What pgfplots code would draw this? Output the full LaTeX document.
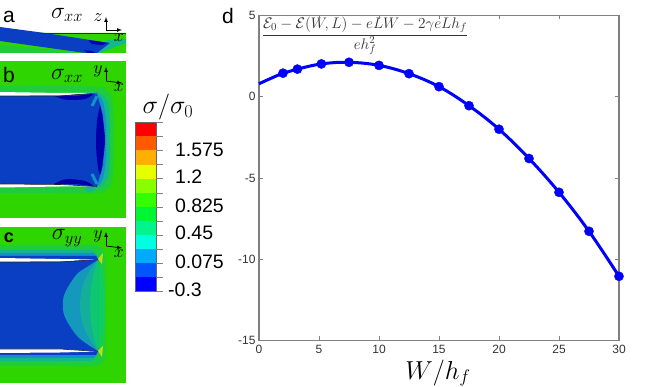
\RequirePackage{fix-cm}
\documentclass[border=0pt]{standalone}
\usepackage{pgfplots}
\pgfplotsset{compat=1.18}
\usepackage{fontspec}
\setmainfont{Liberation Sans}
\definecolor{bg}{HTML}{2FD500}
\definecolor{halo}{HTML}{1FCC3A}
\definecolor{teal1}{HTML}{12B98C}
\definecolor{lb}{HTML}{1590C8}
\definecolor{mb}{HTML}{0A3FC4}
\definecolor{db}{HTML}{0000AA}
\definecolor{axg}{HTML}{808080}
\begin{document}
\begin{tikzpicture}
\path[use as bounding box] (0,0) rectangle (654pt,387pt);
% ---------- overlay in pixel coordinates
\begin{axis}[at={(0,0)},anchor=south west,scale only axis,width=654pt,height=387pt,
  xmin=0,xmax=654,ymin=0,ymax=387,y dir=reverse,hide axis,clip=false]
% panel a
\addplot[fill=bg,draw=none] coordinates {(0,28)(40,33)(126,33)(126,53)(0,53)} --cycle;
\addplot[fill=halo,draw=none] coordinates {(0,45)(85,53)(0,53)} --cycle;
\addplot[fill=teal1,draw=none] coordinates {(90,53)(108,40)(126,39)(126,43)(112,48)(100,53)} --cycle;
\addplot[fill=mb,draw=none] coordinates {(0,27)(45,33)(90,40)(110,43)(97,53)(85,53)(0,41)} --cycle;
\addplot[fill=db,draw=none] coordinates {(88,40)(108,43)(102,45)(92,44)} --cycle;
\addplot[fill=db,draw=none] coordinates {(84,50)(92,51)(95,53)(88,53)} --cycle;
\addplot[draw=black!70!green,line width=0.7pt] coordinates {(40,33)(126,33)};
% panel b
\addplot[fill=bg,draw=none] coordinates {(0,61)(126,61)(126,218)(0,218)} --cycle;
\addplot[fill=halo,draw=none,smooth] coordinates {(0,86)(60,86)(98,87)(109,92)(113,105)(114,140)(113,175)(109,188)(98,193)(60,193)(0,193)} --cycle;
\addplot[fill=teal1,draw=none,smooth] coordinates {(97,92)(104,96)(109,108)(110,140)(109,172)(104,184)(97,188)(85,186)(85,93)} --cycle;
\addplot[fill=lb,draw=none,smooth] coordinates {(97,94)(103,102)(106,120)(106.5,140)(106,160)(103,178)(97,186)(85,180)(85,100)} --cycle;
\addplot[fill=mb,draw=none] coordinates {(0,94)(97,94)(103,115)(104,140)(103,165)(97,186)(0,186)} --cycle;
\addplot[fill=db,draw=none,smooth] coordinates {(100,105)(103,120)(105,140)(103,160)(100,175)(97,160)(96,140)(97,120)} --cycle;
\addplot[fill=db,draw=none,smooth] coordinates {(54,96)(75,96)(93,94)(85,99)(70,100)(62,99)} --cycle;
\addplot[fill=db,draw=none,smooth] coordinates {(54,184)(75,184)(93,186)(85,181)(70,179)(62,180)} --cycle;
\addplot[draw=lb,line width=3pt] coordinates {(97,96)(92,106)};
\addplot[draw=lb,line width=3pt] coordinates {(97,184)(92,174)};
\addplot[fill=white,draw=none] coordinates {(0,92)(60,93)(97,93)(60,95.5)(0,96)} --cycle;
\addplot[fill=white,draw=none] coordinates {(0,184)(60,184.5)(97,186.5)(60,186.5)(0,187.5)} --cycle;
\addplot[draw=black!85,line width=0.6pt] coordinates {(0,96)(60,96)(97,93)};
\addplot[draw=black!85,line width=0.6pt] coordinates {(0,184)(60,184.5)(97,186.5)};
% panel c
\addplot[fill=bg,draw=none] coordinates {(0,227)(126,227)(126,383)(0,383)} --cycle;
\addplot[fill=halo,draw=none,smooth] coordinates {(0,245)(60,245)(95,245)(104,252)(106,270)(106,305)(106,340)(104,360)(95,366)(60,366)(0,366)} --cycle;
\addplot[fill=teal1,draw=none] coordinates {(0,250)(92,250)(98,256)(98,354)(92,361)(0,361)} --cycle;
\addplot[fill=lb,draw=none] coordinates {(0,253)(94,253)(98,258)(98,352)(94,358)(0,358)} --cycle;
\addplot[fill=mb,draw=none] coordinates {(0,256)(96,256)(98,260)(98,351)(96,355)(0,355)} --cycle;
% lenses
\addplot[fill=teal1!70!green,draw=none,smooth] coordinates {(98,260)(103,280)(104,305)(103,330)(98,351)} --cycle;
\addplot[fill=lb!80!teal1,draw=none,smooth] coordinates {(98,260)(87,267)(77,274)(68,287)(63.5,297)(63,305)(63.5,313)(68,323)(77,336)(87,344)(98,351)} --cycle;
\addplot[fill=lb!25!teal1,draw=none,smooth] coordinates {(98,260)(90,270)(84,282)(81,294)(80,305)(81,316)(84,328)(90,340)(98,351)} --cycle;
\addplot[fill=teal1!80!green,draw=none,smooth] coordinates {(98,260)(94,272)(91,288)(90,305)(91,322)(94,338)(98,351)} --cycle;
\addplot[fill=white,draw=none] coordinates {(0,258)(60,259)(98,259.5)(60,261.5)(0,262)} --cycle;
\addplot[fill=white,draw=none] coordinates {(0,349)(60,349)(98,351.5)(60,352.5)(0,353)} --cycle;
\addplot[draw=black!85,line width=0.6pt] coordinates {(0,262)(60,262)(98,259.5)};
\addplot[draw=black!85,line width=0.6pt] coordinates {(0,349)(60,349)(98,351.5)};
\addplot[fill=yellow!75!green,draw=none] coordinates {(98,259)(103,253)(102,264)} --cycle;
\addplot[fill=yellow!75!green,draw=none] coordinates {(98,351)(103,346)(102,357)} --cycle;
% triads
\addplot[black,line width=0.7pt,-latex] coordinates {(106,30)(106,17)};
\addplot[black,line width=0.7pt,-latex] coordinates {(106,30)(122,30)};
\addplot[black,line width=0.7pt,-latex] coordinates {(106,81)(106,67)};
\addplot[black,line width=0.7pt,-latex] coordinates {(106,81)(122,83)};
\addplot[black,line width=0.7pt,-latex] coordinates {(106,246)(106,232)};
\addplot[black,line width=0.7pt,-latex] coordinates {(106,246)(122,248)};
% colorbar
\addplot[fill={rgb,255:red,255;green,0;blue,0},draw=none] coordinates {(135,122.3)(156,122.3)(156,136.4)(135,136.4)} --cycle;
\addplot[fill={rgb,255:red,255;green,90;blue,0},draw=none] coordinates {(135,136.4)(156,136.4)(156,150.5)(135,150.5)} --cycle;
\addplot[fill={rgb,255:red,255;green,175;blue,0},draw=none] coordinates {(135,150.5)(156,150.5)(156,164.6)(135,164.6)} --cycle;
\addplot[fill={rgb,255:red,230;green,255;blue,0},draw=none] coordinates {(135,164.6)(156,164.6)(156,178.7)(135,178.7)} --cycle;
\addplot[fill={rgb,255:red,136;green,255;blue,0},draw=none] coordinates {(135,178.7)(156,178.7)(156,192.8)(135,192.8)} --cycle;
\addplot[fill={rgb,255:red,51;green,255;blue,0},draw=none] coordinates {(135,192.8)(156,192.8)(156,206.9)(135,206.9)} --cycle;
\addplot[fill={rgb,255:red,0;green,245;blue,50},draw=none] coordinates {(135,206.9)(156,206.9)(156,221)(135,221)} --cycle;
\addplot[fill={rgb,255:red,0;green,245;blue,140},draw=none] coordinates {(135,221)(156,221)(156,235.1)(135,235.1)} --cycle;
\addplot[fill={rgb,255:red,0;green,255;blue,225},draw=none] coordinates {(135,235.1)(156,235.1)(156,249.2)(135,249.2)} --cycle;
\addplot[fill={rgb,255:red,0;green,170;blue,255},draw=none] coordinates {(135,249.2)(156,249.2)(156,263.3)(135,263.3)} --cycle;
\addplot[fill={rgb,255:red,0;green,85;blue,255},draw=none] coordinates {(135,263.3)(156,263.3)(156,277.2)(135,277.2)} --cycle;
\addplot[fill={rgb,255:red,0;green,0;blue,255},draw=none] coordinates {(135,277.2)(156,277.2)(156,291.3)(135,291.3)} --cycle;
\addplot[draw=black!60,line width=0.4pt] coordinates {(135,122.3)(135,291.3)(156,291.3)(156,122.3)(135,122.3)};
\addplot[draw=black!50,line width=0.5pt] coordinates {(156,122.3)(162.5,122.3)};
\addplot[draw=black!50,line width=0.5pt] coordinates {(156,136.4)(162.5,136.4)};
\addplot[draw=black!50,line width=0.5pt] coordinates {(156,150.5)(162.5,150.5)};
\addplot[draw=black!50,line width=0.5pt] coordinates {(156,164.6)(162.5,164.6)};
\addplot[draw=black!50,line width=0.5pt] coordinates {(156,178.7)(162.5,178.7)};
\addplot[draw=black!50,line width=0.5pt] coordinates {(156,192.8)(162.5,192.8)};
\addplot[draw=black!50,line width=0.5pt] coordinates {(156,206.9)(162.5,206.9)};
\addplot[draw=black!50,line width=0.5pt] coordinates {(156,221)(162.5,221)};
\addplot[draw=black!50,line width=0.5pt] coordinates {(156,235.1)(162.5,235.1)};
\addplot[draw=black!50,line width=0.5pt] coordinates {(156,249.2)(162.5,249.2)};
\addplot[draw=black!50,line width=0.5pt] coordinates {(156,263.3)(162.5,263.3)};
\addplot[draw=black!50,line width=0.5pt] coordinates {(156,277.2)(162.5,277.2)};
\addplot[draw=black!50,line width=0.5pt] coordinates {(156,291.3)(162.5,291.3)};
% text
\node[inner sep=0pt] at (axis cs:9,16.5) {\fontsize{21}{21}\selectfont a};
\node[inner sep=0pt] at (axis cs:9,75) {\fontsize{21}{21}\selectfont b};
\node[inner sep=0pt] at (axis cs:9,238) {\fontsize{18}{18}\selectfont\bfseries c};
\node[inner sep=0pt] at (axis cs:228,16) {\fontsize{21}{21}\selectfont d};
\node[inner sep=0pt] at (axis cs:67,15) {\fontsize{23.5}{23.5}\selectfont $\sigma_{xx}$};
\node[inner sep=0pt] at (axis cs:67,76) {\fontsize{23.5}{23.5}\selectfont $\sigma_{xx}$};
\node[inner sep=0pt] at (axis cs:67,238) {\fontsize{23.5}{23.5}\selectfont $\sigma_{yy}$};
\node[inner sep=0pt] at (axis cs:98,18) {\fontsize{18}{18}\selectfont $z$};
\node[inner sep=0pt] at (axis cs:119,38) {\fontsize{18}{18}\selectfont $x$};
\node[inner sep=0pt] at (axis cs:98,71) {\fontsize{18}{18}\selectfont $y$};
\node[inner sep=0pt] at (axis cs:119,88) {\fontsize{18}{18}\selectfont $x$};
\node[inner sep=0pt] at (axis cs:98,236) {\fontsize{18}{18}\selectfont $y$};
\node[inner sep=0pt] at (axis cs:119,254) {\fontsize{18}{18}\selectfont $x$};
\node[inner sep=0pt] at (axis cs:168,107) {\fontsize{26}{26}\selectfont $\sigma/\sigma_0$};
\node[inner sep=0pt,anchor=east] at (axis cs:224,150) {\fontsize{19.5}{19.5}\selectfont 1.575};
\node[inner sep=0pt,anchor=west] at (axis cs:175,177) {\fontsize{19.5}{19.5}\selectfont 1.2};
\node[inner sep=0pt,anchor=east] at (axis cs:224,206) {\fontsize{19.5}{19.5}\selectfont 0.825};
\node[inner sep=0pt,anchor=west] at (axis cs:175,233) {\fontsize{19.5}{19.5}\selectfont 0.45};
\node[inner sep=0pt,anchor=east] at (axis cs:224,262) {\fontsize{19.5}{19.5}\selectfont 0.075};
\node[inner sep=0pt,anchor=west] at (axis cs:168,290) {\fontsize{19.5}{19.5}\selectfont -0.3};
\node[inner sep=0pt] at (axis cs:438,373) {\fontsize{26}{26}\selectfont $W/h_f$};
\node[inner sep=0pt,text=black!80] at (axis cs:365,36) {\fontsize{15.3}{15.3}\selectfont $\displaystyle\frac{\mathcal{E}_0-\mathcal{E}(W,L)-eLW-2\gamma eLh_f}{eh_f^2}$};
\end{axis}
% ---------- panel d
\begin{axis}[at={(259pt,46.5pt)},anchor=south west,scale only axis,width=360pt,height=325pt,
  xmin=0,xmax=30,ymin=-15,ymax=5,
  xtick={0,5,...,30},ytick={-15,-10,-5,0,5},
  axis line style={axg,line width=1.1pt},
  tick style={axg,line width=0.7pt},
  major tick length=4pt,tick align=inside,
  ticklabel style={font=\fontsize{12}{12}\selectfont,text=black!80},
  /pgf/number format/assume math mode=true,
  xticklabel style={yshift=-1pt},
  clip=false]
\addplot[blue,line width=3pt,smooth,tension=0.6] coordinates {
 (0,0.8)(2,1.45)(3.2,1.7)(5.2,2.02)(7.5,2.12)(10,1.93)(12.5,1.42)(15,0.62)(17.5,-0.55)(20,-2)(22.5,-3.8)(25,-5.88)(27.5,-8.28)(30,-11.05)};
\addplot[only marks,blue,mark=*,mark size=4.6pt,mark options={fill=blue,draw=blue}] coordinates {
 (2,1.45)(3.2,1.7)(5.2,2.02)(7.5,2.12)(10,1.93)(12.5,1.42)(15,0.62)(17.5,-0.55)(20,-2)(22.5,-3.8)(25,-5.88)(27.5,-8.28)(30,-11.05)};
\end{axis}
\end{tikzpicture}
\end{document}
